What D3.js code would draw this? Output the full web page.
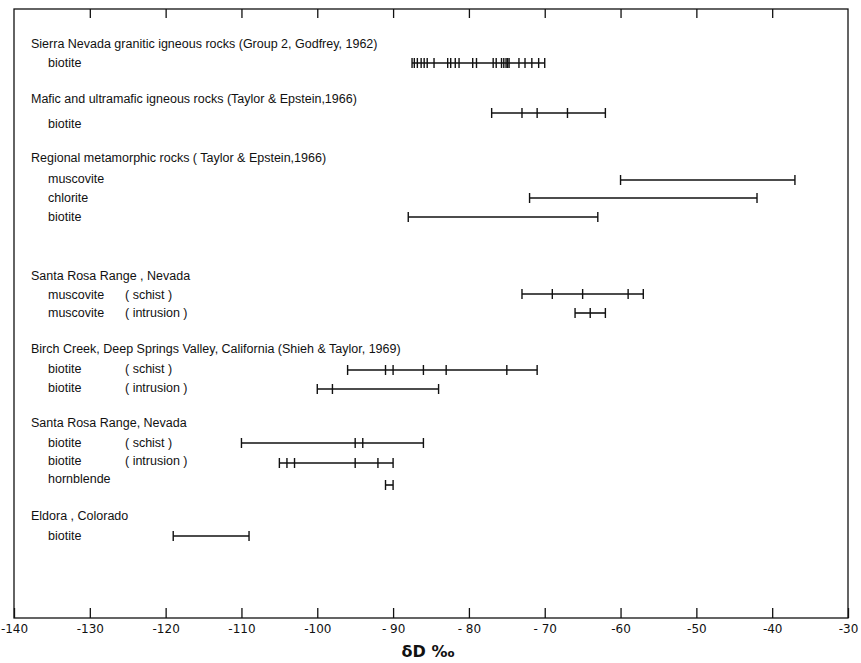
<!DOCTYPE html>
<html>
<head>
<meta charset="utf-8">
<script src="https://cdn.jsdelivr.net/npm/d3@7"></script>
<style>
  body { margin: 0; background: #fff; }
  text { font-family: "Liberation Sans", Arial, sans-serif; fill: #111; }
</style>
</head>
<body>
<svg class="chart"></svg>
<script>
// tick values and their printed labels
var tickValues = [-140, -130, -120, -110, -100, -90, -80, -70, -60, -50, -40, -30];
var tickLabels = ["-140", "-130", "-120", "-110", "-100", "- 90", "- 80", "- 70", "-60", "-50", "-40", "-30"];

// group headings
var headings = [
  "Sierra Nevada granitic igneous rocks (Group 2, Godfrey, 1962)",
  "Mafic and ultramafic igneous rocks (Taylor & Epstein,1966)",
  "Regional metamorphic rocks ( Taylor & Epstein,1966)",
  "Santa Rosa Range , Nevada",
  "Birch Creek, Deep Springs Valley, California (Shieh & Taylor, 1969)",
  "Santa Rosa Range, Nevada",
  "Eldora , Colorado"
];

// mineral rows
var minerals = ["biotite", "biotite", "muscovite", "chlorite", "biotite",
  "muscovite", "muscovite", "biotite", "biotite", "biotite", "biotite", "hornblende", "biotite"];
var qualifiers = ["", "", "", "", "", "( schist )", "( intrusion )", "( schist )", "( intrusion )",
  "( schist )", "( intrusion )", "", ""];

// dD values (per mille) of each measured sample, per row
var sierraBiotite = [-87.5, -87.2, -86.8, -86.3, -85.9, -85.5, -84.6, -82.8, -82.4, -81.8, -81.3,
  -79.5, -79.0, -76.8, -76.4, -75.7, -75.4, -75.1, -74.9, -74.7, -73.4, -72.6, -71.7, -70.8, -70];
var maficBiotite = [-77, -73, -71, -67, -62];
var regMuscovite = [-60, -37];
var regChlorite = [-72, -42];
var regBiotite = [-88, -63];
var srMuscSchist = [-73, -69, -65, -59, -57];
var srMuscIntrusion = [-66, -64, -62];
var bcBiotiteSchist = [-96, -91, -90, -86, -83, -75, -71];
var bcBiotiteIntrusion = [-100, -98, -84];
var srBiotiteSchist = [-110, -95, -94, -86];
var srBiotiteIntrusion = [-105, -104, -103, -95, -92, -90];
var srHornblende = [-91, -90];
var eldoraBiotite = [-119, -109];

var rowValues = [sierraBiotite, maficBiotite, regMuscovite, regChlorite, regBiotite,
  srMuscSchist, srMuscIntrusion, bcBiotiteSchist, bcBiotiteIntrusion,
  srBiotiteSchist, srBiotiteIntrusion, srHornblende, eldoraBiotite];

// layout (pixel rows of the text lines)
var headingY = [44, 99, 158, 276, 349, 423, 516];
var rowY = [63, 124, 179, 198, 217, 295, 313, 369, 388, 443, 461, 479, 536];
var barY = [63, 113, 180, 198, 217, 294, 313, 370, 389, 443, 463, 485, 536];

var W = 861, H = 663;
var plotTop = 9, plotBottom = 618;

var svg = d3.select(".chart").attr("width", W).attr("height", H);

var x = d3.scaleLinear().domain([-140, -30]).range([14, 848]);

// frame
svg.append("rect")
  .attr("x", x(-140)).attr("y", plotTop)
  .attr("width", x(-30) - x(-140)).attr("height", plotBottom - plotTop)
  .attr("fill", "none").attr("stroke", "#111").attr("stroke-width", 1.3);

// bottom axis, ticks inward
var xAxis = d3.axisBottom(x).tickValues(tickValues).tickSizeInner(-10).tickSizeOuter(0)
  .tickPadding(6)
  .tickFormat(function (d, i) { return tickLabels[i]; });
var gx = svg.append("g").attr("transform", "translate(0," + plotBottom + ")").call(xAxis);
gx.select(".domain").remove();
gx.selectAll("line").attr("stroke", "#111").attr("stroke-width", 1.3);
gx.selectAll("text").style("font-size", "12px").attr("fill", "#111")
  .style("font-family", "'DejaVu Sans', sans-serif");

// top axis, inward ticks, no labels
var xTop = d3.axisTop(x).tickValues(tickValues.slice(1, -1)).tickSizeInner(-9).tickSizeOuter(0)
  .tickFormat("");
var gt = svg.append("g").attr("transform", "translate(0," + plotTop + ")").call(xTop);
gt.select(".domain").remove();
gt.selectAll("line").attr("stroke", "#111").attr("stroke-width", 1.3);

// axis title
svg.append("text")
  .attr("x", 428).attr("y", 657)
  .attr("text-anchor", "middle")
  .style("font-size", "16px").style("font-weight", "bold")
  .style("font-family", "'DejaVu Sans', sans-serif")
  .text("\u03B4D \u2030");

// headings
svg.selectAll(".heading")
  .data(headings)
  .enter().append("text")
  .attr("class", "heading")
  .attr("x", 31)
  .attr("y", function (d, i) { return headingY[i]; })
  .attr("dy", "0.35em")
  .style("font-size", "12.5px")
  .text(function (d) { return d; });

// mineral labels
svg.selectAll(".mineral")
  .data(minerals)
  .enter().append("text")
  .attr("class", "mineral")
  .attr("x", 48)
  .attr("y", function (d, i) { return rowY[i]; })
  .attr("dy", "0.35em")
  .style("font-size", "12.5px")
  .text(function (d) { return d; });

svg.selectAll(".qual")
  .data(qualifiers)
  .enter().append("text")
  .attr("class", "qual")
  .attr("x", 125)
  .attr("y", function (d, i) { return rowY[i]; })
  .attr("dy", "0.35em")
  .style("font-size", "12.5px")
  .text(function (d) { return d; });

// range bars with sample ticks
var rows = svg.selectAll(".row")
  .data(rowValues)
  .enter().append("g")
  .attr("class", "row")
  .attr("transform", function (d, i) { return "translate(0," + barY[i] + ")"; });

rows.append("line")
  .attr("x1", function (d) { return x(d3.min(d)); })
  .attr("x2", function (d) { return x(d3.max(d)); })
  .attr("stroke", "#111").attr("stroke-width", 1.6);

rows.selectAll(".tick")
  .data(function (d) { return d; })
  .enter().append("line")
  .attr("class", "tick")
  .attr("x1", function (v) { return x(v); })
  .attr("x2", function (v) { return x(v); })
  .attr("y1", -5).attr("y2", 5)
  .attr("stroke", "#111").attr("stroke-width", 1.4);
</script>
</body>
</html>
